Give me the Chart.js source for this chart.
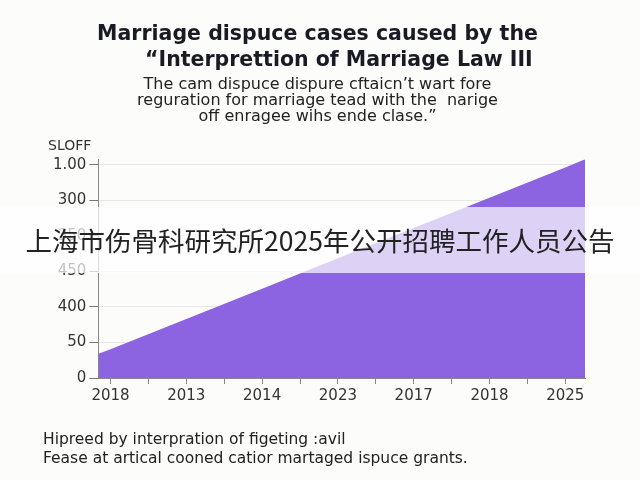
<!DOCTYPE html>
<html lang="en">
<head>
    <meta charset="UTF-8">
    <meta content="width=device-width, initial-scale=1.0" name="viewport">
    <script src="https://cdn.jsdelivr.net/npm/chart.js"></script>
    <title>Marriage dispute cases</title>
    <style>
        html, body { margin: 0; padding: 0; background: #fcfcfa; }
        #wrap { width: 640px; height: 480px; }
    </style>
</head>
<body>

<div id="wrap"><canvas id="myChart"></canvas></div>

<script>

    // category labels under the x axis (positions 0..6)
    const xLabels = ['2018', '2013', '2014', '2023', '2017', '2018', '2025'];
    // y tick labels for grid positions 0..6, bottom to top
    const yTickLabels = ['0', '50', '400', '450', '350', '300', '1.00'];

    // area series: x position (category index) and value
    const xPos = [-0.16, 0, 1, 2, 3, 4, 5, 6, 6.26];
    const caseValues = [0.68, 0.81, 1.66, 2.51, 3.37, 4.22, 5.07, 5.92, 6.15];

    const titleLines = ['Marriage dispuce cases caused by the', '      \u201cInterprettion of Marriage Law III'];
    const subtitleLines = [
        'The cam dispuce dispure cftaicn\u2019t wart fore',
        'reguration for marriage tead with the  narige',
        'off enragee wihs ende clase.\u201d'
    ];
    const yAxisName = 'SLOFF';
    const footerLines = [
        'Hipreed by interpration of figeting :avil',
        'Fease at artical cooned catior martaged ispuce grants.'
    ];
    const bannerText = '上海市伤骨科研究所2025年公开招聘工作人员公告';

    const ctx = document.getElementById('myChart').getContext('2d');

    const extras = {
        id: 'extras',
        afterDraw: (chart) => {
            const {ctx} = chart;
            ctx.save();
            // axis name above the y axis
            ctx.fillStyle = '#333';
            ctx.font = '14px "DejaVu Sans", sans-serif';
            ctx.textAlign = 'left';
            ctx.textBaseline = 'middle';
            ctx.fillText(yAxisName, 48, 146);

            // footer notes
            ctx.fillStyle = '#222';
            ctx.font = '15.5px "DejaVu Sans", sans-serif';
            footerLines.forEach((t, i) => ctx.fillText(t, 43, 440 + i * 19));

            // translucent banner with headline
            ctx.fillStyle = 'rgba(255,255,255,0.7)';
            ctx.fillRect(0, 207, 640, 66);
            ctx.fillStyle = '#222';
            ctx.font = '26.5px "Noto Sans CJK SC", sans-serif';
            ctx.textAlign = 'center';
            ctx.fillText(bannerText, 320, 241);
            ctx.restore();
        }
    };

    const chart = new Chart(ctx, {
        type: 'line',
        data: {
            datasets: [{
                label: 'Cases',
                data: xPos.map((x, i) => ({x: x, y: caseValues[i]})),
                fill: 'origin',
                backgroundColor: 'rgb(140,100,225)',
                borderWidth: 0,
                pointRadius: 0,
                tension: 0
            }]
        },
        options: {
            responsive: true,
            maintainAspectRatio: false,
            animation: false,
            layout: {
                padding: {left: 50, right: 55, top: 0, bottom: 72}
            },
            plugins: {
                legend: {display: false},
                tooltip: {enabled: false},
                title: {
                    display: true,
                    text: titleLines,
                    color: '#1a1a24',
                    font: {family: '"DejaVu Sans", sans-serif', size: 20.5, weight: 'bold', lineHeight: 1.3},
                    padding: {top: 21, bottom: 3}
                },
                subtitle: {
                    display: true,
                    text: subtitleLines,
                    color: '#222',
                    font: {family: '"DejaVu Sans", sans-serif', size: 16, lineHeight: 1.0},
                    padding: {top: 0, bottom: 34}
                }
            },
            scales: {
                x: {
                    type: 'linear',
                    min: xPos[0],
                    max: xPos[xPos.length - 1],
                    border: {color: '#888'},
                    grid: {drawOnChartArea: false, tickLength: 6, tickColor: '#888'},
                    ticks: {
                        stepSize: 0.5,
                        includeBounds: false,
                        autoSkip: false,
                        maxRotation: 0,
                        color: '#333',
                        font: {family: '"DejaVu Sans", sans-serif', size: 15},
                        callback: (v) => Number.isInteger(v) ? xLabels[v] : ''
                    }
                },
                y: {
                    min: 0,
                    max: 6.15,
                    border: {color: '#888'},
                    grid: {color: '#e8e8e8', tickLength: 9, tickColor: '#777'},
                    ticks: {
                        stepSize: 1,
                        includeBounds: false,
                        color: '#333',
                        font: {family: '"DejaVu Sans", sans-serif', size: 15},
                        callback: (v) => yTickLabels[v]
                    }
                }
            }
        },
        plugins: [extras],
    });

</script>

</body>
</html>
